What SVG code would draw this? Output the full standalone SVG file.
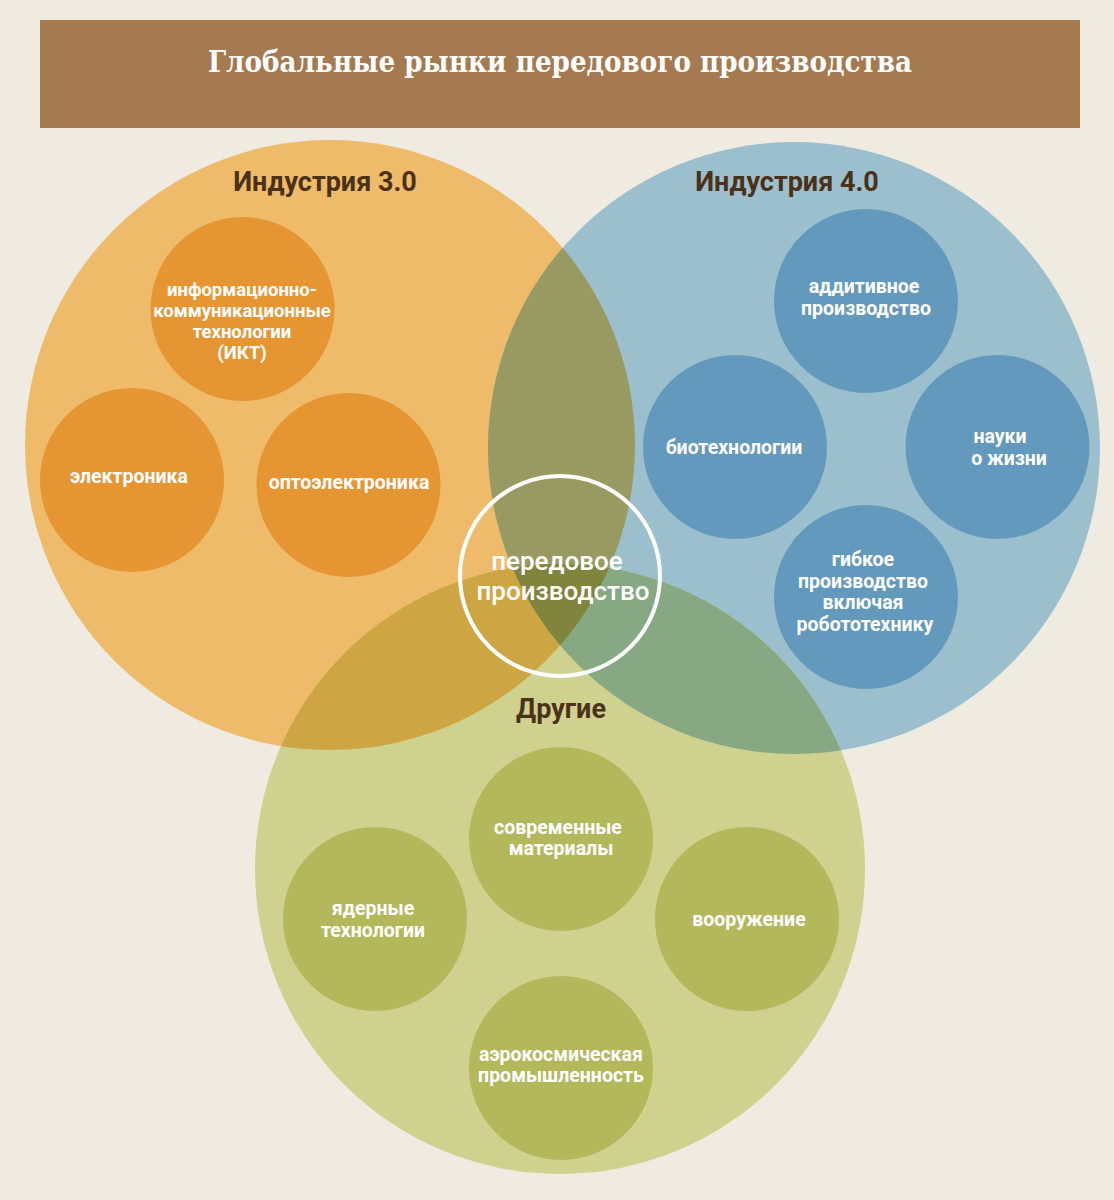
<svg xmlns="http://www.w3.org/2000/svg" width="1114" height="1200" viewBox="0 0 1114 1200">
<style>
.title{font-family:"DejaVu Serif Condensed","DejaVu Serif","Liberation Serif",serif;font-stretch:condensed;font-weight:bold;font-size:30px;fill:#ffffff;text-anchor:middle}
.head{font-family:Roboto,"Liberation Sans",sans-serif;font-weight:bold;font-size:27px;fill:#4b3118;text-anchor:middle}
.lbl{font-family:Roboto,"Liberation Sans",sans-serif;font-weight:bold;font-size:19.5px;fill:#ffffff;text-anchor:middle}
.ict{font-size:18.5px}
.core{font-family:Roboto,"Liberation Sans",sans-serif;font-weight:500;font-size:26px;fill:#ffffff;text-anchor:middle}
.so{fill:#e69533}
.sb{fill:#6299bd}
.sg{fill:#b3b85a}
</style>
<defs>
<clipPath id="cA"><circle cx="330" cy="445" r="305"/></clipPath>
<clipPath id="cB"><circle cx="794" cy="448" r="306"/></clipPath>
<clipPath id="cC"><circle cx="560" cy="869" r="305"/></clipPath>
</defs>
<rect x="0" y="0" width="1114" height="1200" fill="#f0ebe0"/>
<g id="header">
<rect x="40" y="20" width="1040" height="108" fill="#a57a51"/>
<text class="title" x="560" y="72" textLength="704" lengthAdjust="spacingAndGlyphs">Глобальные рынки передового производства</text>
</g>
<g id="sets">
<circle id="industry3" cx="330" cy="445" r="305" fill="#eebb6a"/>
<circle id="industry4" cx="794" cy="448" r="306" fill="#9bbfcd"/>
<circle id="others" cx="560" cy="869" r="305" fill="#cfd18f"/>
<circle cx="794" cy="448" r="306" fill="#999a62" clip-path="url(#cA)"/>
<circle cx="560" cy="869" r="305" fill="#cda542" clip-path="url(#cA)"/>
<circle cx="560" cy="869" r="305" fill="#86a883" clip-path="url(#cB)"/>
<g clip-path="url(#cB)"><circle cx="560" cy="869" r="305" fill="#80843c" clip-path="url(#cA)"/></g>
</g>
<g id="label-industry3"><text class="head" x="325" y="191">Индустрия 3.0</text></g>
<g id="label-industry4"><text class="head" x="787" y="191">Индустрия 4.0</text></g>
<g id="label-others"><text class="head" x="561" y="718">Другие</text></g>
<g id="node-ict">
<circle class="so" cx="242.5" cy="309" r="92"/>
<text class="lbl ict" x="242" y="295.5">информационно-</text>
<text class="lbl ict" x="242" y="316.5">коммуникационные</text>
<text class="lbl ict" x="242" y="337.5">технологии</text>
<text class="lbl ict" x="242" y="358.5">(ИКТ)</text>
</g>
<g id="node-electronics">
<circle class="so" cx="132" cy="480" r="92"/>
<text class="lbl" x="129" y="483">электроника</text>
</g>
<g id="node-optoelectronics">
<circle class="so" cx="348.5" cy="485" r="92"/>
<text class="lbl" x="349" y="489">оптоэлектроника</text>
</g>
<g id="node-additive">
<circle class="sb" cx="866" cy="301" r="92"/>
<text class="lbl" x="864" y="293">аддитивное</text>
<text class="lbl" x="866" y="315">производство</text>
</g>
<g id="node-biotech">
<circle class="sb" cx="735" cy="447" r="92"/>
<text class="lbl" x="734" y="454">биотехнологии</text>
</g>
<g id="node-lifesci">
<circle class="sb" cx="997.5" cy="447" r="92"/>
<text class="lbl" x="1000" y="443">науки</text>
<text class="lbl" x="1009" y="465">о жизни</text>
</g>
<g id="node-flexible">
<circle class="sb" cx="866" cy="597" r="92"/>
<text class="lbl" x="863" y="566">гибкое</text>
<text class="lbl" x="863" y="587.5">производство</text>
<text class="lbl" x="863" y="609">включая</text>
<text class="lbl" x="865" y="630.5">робототехнику</text>
</g>
<g id="node-materials">
<circle class="sg" cx="561" cy="839" r="92"/>
<text class="lbl" x="558" y="834">современные</text>
<text class="lbl" x="561" y="855">материалы</text>
</g>
<g id="node-nuclear">
<circle class="sg" cx="375" cy="919" r="92"/>
<text class="lbl" x="373" y="915">ядерные</text>
<text class="lbl" x="373" y="937">технологии</text>
</g>
<g id="node-weapons">
<circle class="sg" cx="747" cy="919" r="92"/>
<text class="lbl" x="749" y="926">вооружение</text>
</g>
<g id="node-aerospace">
<circle class="sg" cx="561" cy="1068" r="92"/>
<text class="lbl" x="561" y="1061">аэрокосмическая</text>
<text class="lbl" x="561" y="1082">промышленность</text>
</g>
<g id="node-core">
<circle cx="560" cy="576" r="100" fill="none" stroke="#ffffff" stroke-width="4"/>
<text class="core" x="557" y="570">передовое</text>
<text class="core" x="563" y="600">производство</text>
</g>
</svg>
